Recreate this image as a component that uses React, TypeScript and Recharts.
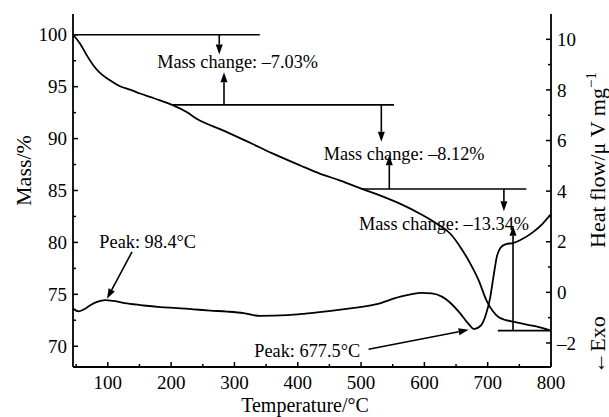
import React from 'react';
import { ComposedChart, Line, XAxis, YAxis, ReferenceLine, ReferenceDot, Label } from 'recharts';

const FONT = '"Liberation Serif", "Times New Roman", serif';

// TG curve (mass, left axis)
const tgTemp = [45, 56, 66.6, 77, 87.6, 103.4, 119.2, 135, 150.8, 166.6, 182.4, 203.4, 224.5, 240.3, 280, 320, 360, 404, 435.6, 467.2, 501.5, 530.6, 562.2, 593.8, 620.2, 641.4, 657.2, 673, 686.1, 698.2, 708, 717.6, 745.4, 773, 800];
const tgMass = [100, 99.17, 98.04, 97.07, 96.33, 95.62, 95.04, 94.72, 94.34, 94.01, 93.69, 93.2, 92.56, 91.92, 90.84, 89.73, 88.57, 87.41, 86.61, 85.96, 85.16, 84.51, 83.71, 82.74, 81.78, 80.81, 79.52, 77.91, 76.3, 74.4, 73.4, 72.8, 72.3, 71.95, 71.5];

// DTA curve (heat flow, right axis)
const dtaTemp = [45, 53.8, 61.7, 72.3, 82.9, 96, 109, 130.3, 156.5, 182.9, 209.2, 235.4, 261.8, 288.2, 314.4, 340, 384, 412, 467.6, 523, 562, 578.5, 595, 611.7, 628.4, 639.5, 656.2, 669.8, 678.2, 689, 697.6, 704, 709, 714.8, 721, 729, 740, 751, 771.6, 787.4, 800];
const dtaHeat = [-0.64, -0.75, -0.68, -0.51, -0.38, -0.31, -0.34, -0.44, -0.52, -0.58, -0.62, -0.67, -0.72, -0.76, -0.82, -0.93, -0.9, -0.84, -0.68, -0.48, -0.17, -0.08, -0.02, -0.04, -0.18, -0.38, -0.82, -1.25, -1.45, -1.32, -0.85, -0.2, 0.6, 1.45, 1.79, 1.91, 1.95, 2.06, 2.38, 2.73, 3.09];

// Ticks
const xTicks = [50, 100, 150, 200, 250, 300, 350, 400, 450, 500, 550, 600, 650, 700, 750, 800];
const massTicks = [70, 72.5, 75, 77.5, 80, 82.5, 85, 87.5, 90, 92.5, 95, 97.5, 100];
const heatTicks = [-2, -1, 0, 1, 2, 3, 4, 5, 6, 7, 8, 9, 10];

// Mass-level lines
const levelMass = [100, 93.25, 85.15, 71.5];
const levelFrom = [45, 203, 500, 716];
const levelTo = [340, 552, 761, 800];

// Vertical arrows (mass axis)
const arrowTemp = [276, 283.5, 532, 544.6, 725.6, 740];
const arrowFrom = [100, 93.25, 93.25, 85.15, 85.15, 71.5];
const arrowTo = [98.1, 96.4, 89.7, 88.4, 83.0, 81.6];

// Mass change labels
const changeLabels = ['Mass change: \u20137.03%', 'Mass change: \u20138.12%', 'Mass change: \u201313.34%'];
const changeTemp = [305, 568, 631];
const changeMass = [97.4, 88.6, 81.85];

// Peak labels (heat axis)
const peakLabels = ['Peak: 98.4\u00B0C', 'Peak: 677.5\u00B0C'];
const peakTextTemp = [163, 415];
const peakTextHeat = [2.0, -2.32];
const peakArrowFromT = [138.2, 511.8];
const peakArrowFromH = [1.6, -2.25];
const peakArrowToT = [98.7, 669.8];
const peakArrowToH = [-0.25, -1.48];

const tgData = tgTemp.map((t, i) => ({ t, m: tgMass[i] }));
const dtaData = dtaTemp.map((t, i) => ({ t, h: dtaHeat[i] }));

const fmt = (v: number) => (v < 0 ? '\u2013' + Math.abs(v) : String(v));

const BottomTick = (props: any) => {
  const { x, y, payload } = props;
  const major = payload.value % 100 === 0;
  return (
    <g>
      <line x1={x} y1={y} x2={x} y2={y - (major ? 5 : 3)} stroke="#000" strokeWidth={1.5} />
      {major && (
        <text x={x} y={y + 22} textAnchor="middle" fontFamily={FONT} fontSize={19} fill="#000">
          {payload.value}
        </text>
      )}
    </g>
  );
};

const LeftTick = (props: any) => {
  const { x, y, payload } = props;
  const major = payload.value % 5 === 0;
  return (
    <g>
      <line x1={x} y1={y} x2={x + (major ? 5 : 3)} y2={y} stroke="#000" strokeWidth={1.5} />
      {major && (
        <text x={x - 6} y={y} dy="0.35em" textAnchor="end" fontFamily={FONT} fontSize={19} fill="#000">
          {payload.value}
        </text>
      )}
    </g>
  );
};

const RightTick = (props: any) => {
  const { x, y, payload } = props;
  const major = payload.value % 2 === 0;
  return (
    <g>
      <line x1={x} y1={y} x2={x - (major ? 5 : 3)} y2={y} stroke="#000" strokeWidth={1.5} />
      {major && (
        <text x={x + 6} y={y} dy="0.35em" textAnchor="start" fontFamily={FONT} fontSize={19} fill="#000">
          {fmt(payload.value)}
        </text>
      )}
    </g>
  );
};

const arrowShape = (props: any) => {
  const { x1, y1, x2, y2 } = props;
  const dx = x2 - x1;
  const dy = y2 - y1;
  const len = Math.sqrt(dx * dx + dy * dy) || 1;
  const ux = dx / len;
  const uy = dy / len;
  const hl = 10;
  const hw = 3.5;
  const bx = x2 - ux * hl;
  const by = y2 - uy * hl;
  const pts = `${x2},${y2} ${bx - uy * hw},${by + ux * hw} ${bx + uy * hw},${by - ux * hw}`;
  return (
    <g>
      <line x1={x1} y1={y1} x2={bx} y2={by} stroke="#000" strokeWidth={1.6} />
      <polygon points={pts} fill="#000" stroke="none" />
    </g>
  );
};

const textShape = (label: string) => (props: any) => (
  <text x={props.cx} y={props.cy} dy="0.35em" textAnchor="middle" fontFamily={FONT} fontSize={18.3} fill="#000">
    {label}
  </text>
);

const LeftTitle = (props: any) => {
  const vb = props.viewBox;
  const cx = vb.x + 23;
  const cy = vb.y + vb.height / 2 - 20;
  return (
    <text x={cx} y={cy} dy="0.35em" textAnchor="middle" transform={`rotate(-90, ${cx}, ${cy})`} fontFamily={FONT} fontSize={22} fill="#000">
      Mass/%
    </text>
  );
};

const RightTitle = (props: any) => {
  const vb = props.viewBox;
  const cx = vb.x + 46;
  const cy1 = 160;
  const cy2 = 345;
  return (
    <g>
      <text x={cx} y={cy1} dy="0.35em" textAnchor="middle" transform={`rotate(-90, ${cx}, ${cy1})`} fontFamily={FONT} fontSize={22} fill="#000">
        Heat flow/{'\u03BC'} V mg<tspan dy="-9" fontSize={15}>{'\u22121'}</tspan>
      </text>
      <text x={cx} y={cy2} dy="0.35em" textAnchor="middle" transform={`rotate(-90, ${cx}, ${cy2})`} fontFamily={FONT} fontSize={22} fill="#000">
        {'\u2190Exo'}
      </text>
    </g>
  );
};

const BottomTitle = (props: any) => {
  const vb = props.viewBox;
  return (
    <text x={vb.x + vb.width / 2 - 7} y={412} textAnchor="middle" fontFamily={FONT} fontSize={20} fill="#000">
      Temperature/{'\u00B0'}C
    </text>
  );
};

export default function App() {
  return (
    <div style={{ position: 'fixed', left: 0, top: 0, width: 609, height: 417, background: '#fff' }}>
      <ComposedChart width={609} height={417} margin={{ top: 14, right: 0, bottom: 0, left: 0 }}>
        <XAxis
          xAxisId="b"
          dataKey="t"
          type="number"
          domain={[45, 800]}
          allowDataOverflow
          ticks={xTicks}
          interval={0}
          height={50}
          tickSize={0}
          tickMargin={0}
          tickLine={false}
          axisLine={{ stroke: '#000', strokeWidth: 1.8 }}
          tick={<BottomTick />}
        >
          <Label content={<BottomTitle />} />
        </XAxis>
        <XAxis
          xAxisId="top"
          orientation="top"
          type="number"
          domain={[45, 800]}
          allowDataOverflow
          height={0}
          tick={false}
          tickLine={false}
          axisLine={{ stroke: '#000', strokeWidth: 1.8 }}
        />
        <YAxis
          yAxisId="m"
          orientation="left"
          type="number"
          domain={[68, 102]}
          allowDataOverflow
          ticks={massTicks}
          interval={0}
          width={73}
          tickSize={0}
          tickMargin={0}
          tickLine={false}
          axisLine={{ stroke: '#000', strokeWidth: 1.8 }}
          tick={<LeftTick />}
        >
          <Label content={<LeftTitle />} />
        </YAxis>
        <YAxis
          yAxisId="h"
          orientation="right"
          type="number"
          domain={[-2.95, 11]}
          allowDataOverflow
          ticks={heatTicks}
          interval={0}
          width={58}
          tickSize={0}
          tickMargin={0}
          tickLine={false}
          axisLine={{ stroke: '#000', strokeWidth: 1.8 }}
          tick={<RightTick />}
        >
          <Label content={<RightTitle />} />
        </YAxis>

        {levelMass.map((v, i) => (
          <ReferenceLine
            key={'lv' + i}
            xAxisId="b"
            yAxisId="m"
            segment={[{ x: levelFrom[i], y: v }, { x: levelTo[i], y: v }]}
            stroke="#000"
            strokeWidth={1.6}
            ifOverflow="visible"
          />
        ))}
        {arrowTemp.map((t, i) => (
          <ReferenceLine
            key={'ar' + i}
            xAxisId="b"
            yAxisId="m"
            segment={[{ x: t, y: arrowFrom[i] }, { x: t, y: arrowTo[i] }]}
            shape={arrowShape}
            ifOverflow="visible"
          />
        ))}
        {peakArrowFromT.map((t, i) => (
          <ReferenceLine
            key={'pa' + i}
            xAxisId="b"
            yAxisId="h"
            segment={[{ x: t, y: peakArrowFromH[i] }, { x: peakArrowToT[i], y: peakArrowToH[i] }]}
            shape={arrowShape}
            ifOverflow="visible"
          />
        ))}

        <Line data={dtaData} dataKey="h" xAxisId="b" yAxisId="h" type="monotone" dot={false} stroke="#000" strokeWidth={1.8} isAnimationActive={false} />
        <Line data={tgData} dataKey="m" xAxisId="b" yAxisId="m" type="monotone" dot={false} stroke="#000" strokeWidth={1.8} isAnimationActive={false} />

        {changeLabels.map((s, i) => (
          <ReferenceDot key={'cl' + i} xAxisId="b" yAxisId="m" x={changeTemp[i]} y={changeMass[i]} r={0} shape={textShape(s)} ifOverflow="visible" />
        ))}
        {peakLabels.map((s, i) => (
          <ReferenceDot key={'pl' + i} xAxisId="b" yAxisId="h" x={peakTextTemp[i]} y={peakTextHeat[i]} r={0} shape={textShape(s)} ifOverflow="visible" />
        ))}
      </ComposedChart>
    </div>
  );
}
